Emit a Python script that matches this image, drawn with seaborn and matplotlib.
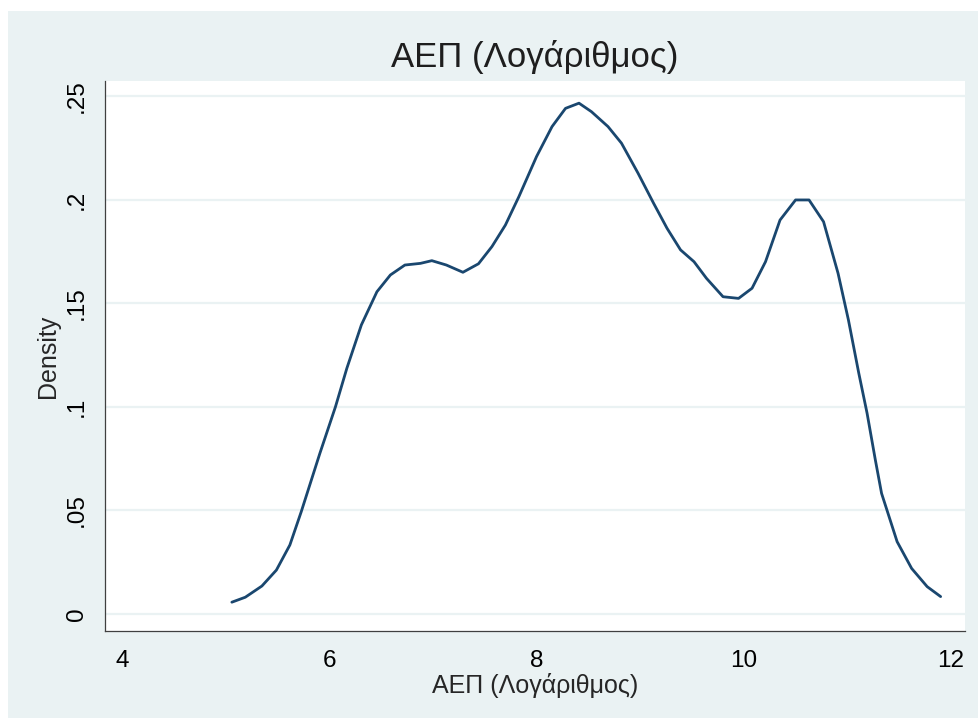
import matplotlib
matplotlib.use("Agg")
import matplotlib.pyplot as plt
from matplotlib.patches import Rectangle
import seaborn as sns
import pandas as pd

# Density curve
log_gdp = [5.06, 5.19, 5.35, 5.49, 5.62, 5.73, 5.91, 6.06, 6.17, 6.31, 6.46,
           6.59, 6.73, 6.88, 6.99, 7.13, 7.29, 7.44, 7.57, 7.70, 7.83, 8.00,
           8.15, 8.28, 8.41, 8.53, 8.69, 8.82, 8.98, 9.13, 9.26, 9.39, 9.52,
           9.64, 9.80, 9.95, 10.08, 10.21, 10.35, 10.50, 10.63, 10.77, 10.91,
           11.01, 11.11, 11.19, 11.27, 11.33, 11.48, 11.62, 11.77, 11.90]
density = [0.0057, 0.0081, 0.0135, 0.0212, 0.0333, 0.0494, 0.0776, 0.1000,
           0.1186, 0.1395, 0.1555, 0.1636, 0.1684, 0.1692, 0.1705, 0.1684,
           0.1649, 0.1690, 0.1773, 0.1877, 0.2014, 0.2207, 0.2352, 0.2440,
           0.2465, 0.2424, 0.2352, 0.2272, 0.2127, 0.1982, 0.1861, 0.1757,
           0.1700, 0.1620, 0.1531, 0.1523, 0.1572, 0.1700, 0.1901, 0.1998,
           0.1998, 0.1893, 0.1644, 0.1419, 0.1162, 0.0969, 0.0743, 0.0582,
           0.0349, 0.0220, 0.0132, 0.0084]

x_ticks = [4, 6, 8, 10, 12]
y_ticks = [0, 0.05, 0.1, 0.15, 0.2, 0.25]
y_tick_labels = ["0", ".05", ".1", ".15", ".2", ".25"]
title = "ΑΕΠ (Λογάριθμος)"

df = pd.DataFrame({"x": log_gdp, "y": density})

bg = "#eaf2f3"
navy = "#1a476f"

sns.set_style("white")
plt.rcParams["font.family"] = ["Liberation Sans", "DejaVu Sans"]

fig = plt.figure(figsize=(9.79, 7.18), dpi=100)
fig.patch.set_facecolor("white")
fig.add_artist(Rectangle((8 / 979, 0), 1 - 8 / 979, 1 - 11 / 718,
                         transform=fig.transFigure, facecolor=bg,
                         edgecolor="none", zorder=-10))
ax = fig.add_axes([105 / 979, 1 - 631 / 718, (965 - 105) / 979, (631 - 81) / 718])
ax.set_facecolor("white")

for yt in y_ticks:
    ax.axhline(yt, color=bg, lw=1.6, zorder=0)

sns.lineplot(data=df, x="x", y="y", ax=ax, color=navy, lw=2.0, sort=False)

ax.set_xlim(3.836, 12.135)
ax.set_ylim(-0.0082, 0.2572)
ax.set_xticks(x_ticks)
ax.set_xticklabels([str(t) for t in x_ticks])
ax.set_yticks(y_ticks)
ax.set_yticklabels(y_tick_labels, rotation=90, va="center")

for side in ["top", "right"]:
    ax.spines[side].set_visible(False)
for side in ["left", "bottom"]:
    ax.spines[side].set_color("#404040")
    ax.spines[side].set_linewidth(0.9)

ax.tick_params(axis="both", direction="out", length=6.5, width=0.9,
               color="#404040", labelsize=17.5, labelcolor="black", pad=6)
ax.tick_params(axis="x", pad=7)

ax.set_xlabel(title, fontsize=18, labelpad=1)
ax.set_ylabel("Density", fontsize=18, labelpad=4)
ax.set_title(title, fontsize=25, color="#1e1e1e", pad=10)

fig.savefig("out.png", dpi=100, facecolor=fig.get_facecolor())
